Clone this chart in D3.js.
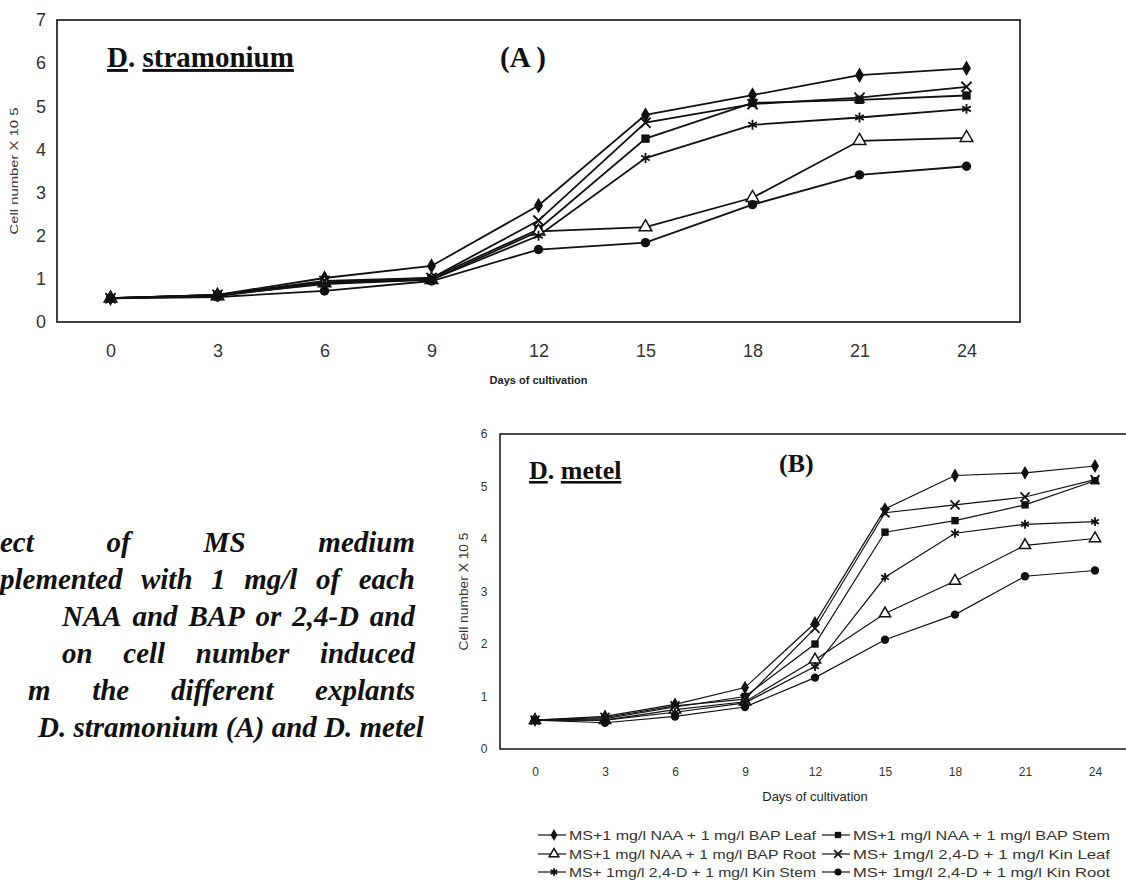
<!DOCTYPE html>
<html>
<head>
<meta charset="utf-8">
<script src="https://cdn.jsdelivr.net/npm/d3@7"></script>
<style>
  body { margin: 0; background: #fff; }
  svg { display: block; }
</style>
</head>
<body>
<div id="chart"></div>
<script>
// days on the x axis (same for both panels)
const days = [0, 3, 6, 9, 12, 15, 18, 21, 24];

// legend labels, in series order
const seriesNames = [
  "MS+1 mg/l NAA + 1 mg/l BAP Leaf",
  "MS+1 mg/l NAA + 1 mg/l BAP Stem",
  "MS+1 mg/l NAA + 1 mg/l BAP Root",
  "MS+ 1mg/l 2,4-D + 1 mg/l Kin Leaf",
  "MS+ 1mg/l 2,4-D + 1 mg/l Kin Stem",
  "MS+ 1mg/l 2,4-D + 1 mg/l Kin Root"
];
const markerTypes = ["diamond", "square", "triangle", "times", "asterisk", "circle"];

// (A) D. stramonium, cell number x 10^5
const stramNaaLeaf = [0.55, 0.63, 1.02, 1.30, 2.70, 4.80, 5.26, 5.72, 5.88];
const stramNaaStem = [0.55, 0.63, 0.92, 1.02, 2.15, 4.25, 5.08, 5.15, 5.25];
const stramNaaRoot = [0.55, 0.60, 0.90, 0.98, 2.10, 2.20, 2.88, 4.20, 4.27];
const stramKinLeaf = [0.55, 0.63, 0.95, 1.02, 2.35, 4.62, 5.05, 5.20, 5.45];
const stramKinStem = [0.55, 0.62, 0.88, 0.98, 2.00, 3.80, 4.57, 4.74, 4.94];
const stramKinRoot = [0.55, 0.58, 0.72, 0.95, 1.68, 1.84, 2.72, 3.41, 3.61];

// (B) D. metel
const metelNaaLeaf = [0.55, 0.62, 0.85, 1.17, 2.40, 4.57, 5.21, 5.26, 5.39];
const metelNaaStem = [0.55, 0.58, 0.80, 1.00, 2.00, 4.13, 4.35, 4.65, 5.11];
const metelNaaRoot = [0.55, 0.55, 0.75, 0.90, 1.70, 2.58, 3.20, 3.88, 4.01];
const metelKinLeaf = [0.55, 0.60, 0.82, 0.95, 2.30, 4.50, 4.65, 4.80, 5.13];
const metelKinStem = [0.55, 0.55, 0.70, 0.88, 1.57, 3.27, 4.11, 4.28, 4.33];
const metelKinRoot = [0.55, 0.50, 0.62, 0.80, 1.36, 2.08, 2.56, 3.29, 3.40];

const yTicksA = [0, 1, 2, 3, 4, 5, 6, 7];
const yTicksB = [0, 1, 2, 3, 4, 5, 6];

const captionLines = [
  "ect of MS medium",
  "plemented with 1 mg/l of each",
  "NAA and BAP or 2,4-D and",
  "on cell number induced",
  "m the different explants",
  "D. stramonium (A) and D. metel"
];

const W = 1126, H = 888;
const svg = d3.select("#chart").append("svg")
  .attr("width", W)
  .attr("height", H);

const ink = "#111";
const sans = "Arial, 'Liberation Sans', sans-serif";
const serif = "'Liberation Serif', 'Times New Roman', serif";

function symbolPath(type, size) {
  const t = {
    diamond: d3.symbolDiamond, square: d3.symbolSquare, triangle: d3.symbolTriangle,
    times: d3.symbolTimes, asterisk: d3.symbolAsterisk, circle: d3.symbolCircle
  }[type];
  return d3.symbol().type(t).size(size)();
}

function drawMarker(g, type, size) {
  const p = g.append("path").attr("d", symbolPath(type, size));
  if (type === "times" || type === "asterisk") {
    p.attr("fill", "none").attr("stroke", ink).attr("stroke-width", 1.8);
  } else if (type === "triangle") {
    p.attr("fill", "#fff").attr("stroke", ink).attr("stroke-width", 1.5);
  } else {
    p.attr("fill", ink);
  }
  return p;
}

function drawPanel(cfg) {
  const x = d3.scalePoint().domain(days).range([cfg.left, cfg.right]).padding(0.5);
  const y = d3.scaleLinear().domain([0, cfg.yMax]).range([cfg.bottom, cfg.top]);
  const g = svg.append("g");

  // plot frame
  g.append("rect")
    .attr("x", cfg.left).attr("y", y(cfg.yMax))
    .attr("width", cfg.right - cfg.left)
    .attr("height", y(0) - y(cfg.yMax))
    .attr("fill", "none").attr("stroke", ink).attr("stroke-width", cfg.frameWidth);

  // axes (labels only)
  const yAxis = g.append("g")
    .attr("transform", `translate(${cfg.left},0)`)
    .call(d3.axisLeft(y).tickValues(cfg.yTicks).tickFormat(d3.format("d"))
      .tickSize(0).tickPadding(cfg.yPad));
  yAxis.select(".domain").remove();
  yAxis.selectAll("text")
    .style("font-family", sans)
    .style("font-size", cfg.tickFont + "px").attr("fill", "#333")
    .attr("text-anchor", "middle");

  const xAxis = g.append("g")
    .attr("transform", `translate(0,${y(0)})`)
    .call(d3.axisBottom(x).tickSize(0).tickPadding(cfg.xPad));
  xAxis.select(".domain").remove();
  xAxis.selectAll("text")
    .style("font-family", sans)
    .style("font-size", cfg.tickFont + "px").attr("fill", "#333");

  // axis titles
  g.append("text")
    .attr("transform", `translate(${cfg.yTitleX},${(cfg.top + cfg.bottom) / 2}) rotate(-90)`)
    .attr("text-anchor", "middle")
    .attr("textLength", cfg.yTitleLen).attr("lengthAdjust", "spacingAndGlyphs")
    .style("font-family", sans)
    .style("font-size", cfg.yTitleFont + "px").attr("fill", "#333")
    .text("Cell number X 10 5");

  g.append("text")
    .attr("x", (cfg.left + cfg.right) / 2).attr("y", cfg.xTitleY)
    .attr("text-anchor", "middle")
    .style("font-family", sans)
    .style("font-size", cfg.xTitleFont + "px")
    .style("font-weight", cfg.xTitleWeight).attr("fill", "#222")
    .text("Days of cultivation");

  // panel name, "D" and species underlined separately
  const nm = g.append("text")
    .attr("x", cfg.nameX).attr("y", cfg.nameY)
    .style("font-family", serif)
    .style("font-size", cfg.nameFont + "px").style("font-weight", "bold").attr("fill", ink);
  nm.append("tspan").attr("text-decoration", "underline").text("D");
  nm.append("tspan").text(". ");
  nm.append("tspan").attr("text-decoration", "underline").text(cfg.species);

  g.append("text")
    .attr("x", cfg.tagX).attr("y", cfg.tagY)
    .style("font-family", serif)
    .style("font-size", cfg.nameFont + "px").style("font-weight", "bold").attr("fill", ink)
    .text(cfg.tag);

  // lines and markers
  const line = d3.line().x((d, i) => x(days[i])).y(d => y(d));
  cfg.series.forEach((vals) => {
    g.append("path")
      .attr("d", line(vals))
      .attr("fill", "none").attr("stroke", ink).attr("stroke-width", cfg.lineWidth);
  });
  cfg.series.forEach((vals, si) => {
    vals.forEach((v, i) => {
      const mg = g.append("g").attr("transform", `translate(${x(days[i])},${y(v)})`);
      drawMarker(mg, markerTypes[si], cfg.markerSize);
    });
  });
}

drawPanel({
  left: 57, right: 1020, top: 20, bottom: 322, yMax: 7, yTicks: yTicksA,
  frameWidth: 1.6, lineWidth: 1.8, markerSize: 70,
  tickFont: 18, yPad: 16, xPad: 22,
  yTitleX: 18, yTitleLen: 127, yTitleFont: 10,
  xTitleY: 384, xTitleFont: 11, xTitleWeight: "bold",
  nameX: 107, nameY: 67, nameFont: 29, species: "stramonium",
  tagX: 500, tagY: 67, tag: "(A )",
  series: [stramNaaLeaf, stramNaaStem, stramNaaRoot, stramKinLeaf, stramKinStem, stramKinRoot]
});

drawPanel({
  left: 500, right: 1130, top: 434, bottom: 749, yMax: 6, yTicks: yTicksB,
  frameWidth: 1.5, lineWidth: 1.2, markerSize: 55,
  tickFont: 12, yPad: 16, xPad: 18,
  yTitleX: 468, yTitleLen: 118, yTitleFont: 12,
  xTitleY: 801, xTitleFont: 13, xTitleWeight: "normal",
  nameX: 529, nameY: 479, nameFont: 26, species: "metel",
  tagX: 779, tagY: 472, tag: "(B)",
  series: [metelNaaLeaf, metelNaaStem, metelNaaRoot, metelKinLeaf, metelKinStem, metelKinRoot]
});

// legend below panel B, two columns by three rows
const legendCols = [538, 822];
const legendRows = [835, 854, 872];
const legend = svg.append("g");
seriesNames.forEach((name, i) => {
  const lx = legendCols[i % 2], ly = legendRows[Math.floor(i / 2)];
  const item = legend.append("g").attr("transform", `translate(${lx},${ly})`);
  item.append("line").attr("x1", 0).attr("x2", 28).attr("y1", 0).attr("y2", 0)
    .attr("stroke", ink).attr("stroke-width", 1.2);
  const mg = item.append("g").attr("transform", "translate(16,0)");
  drawMarker(mg, markerTypes[i], 40);
  item.append("text").attr("x", 31).attr("y", 4.5)
    .attr("textLength", i % 2 ? 257 : 247).attr("lengthAdjust", "spacingAndGlyphs")
    .style("font-family", sans)
    .style("font-size", "13px").attr("fill", "#333")
    .text(name);
});

// figure caption, clipped at the page's left edge; justified by spreading words
const capX = [0, 0, 62, 62, 28, 38];
const capJustify = [true, true, true, true, true, false];
const capRight = 415;
const cap = svg.append("g")
  .style("font-family", serif)
  .style("font-size", "29px").style("font-weight", "bold").style("font-style", "italic")
  .attr("fill", ink);
captionLines.forEach((t, i) => {
  const yy = 552 + i * 37;
  if (!capJustify[i]) {
    cap.append("text").attr("x", capX[i]).attr("y", yy).text(t);
    return;
  }
  const words = t.split(" ");
  const line = cap.append("text").attr("y", yy);
  const spans = words.map(w => line.append("tspan").text(w));
  const widths = spans.map(s => s.node().getComputedTextLength());
  const gap = (capRight - capX[i] - d3.sum(widths)) / (words.length - 1);
  let cx = capX[i];
  spans.forEach((s, k) => {
    s.attr("x", cx);
    cx += widths[k] + gap;
  });
});
</script>
</body>
</html>
